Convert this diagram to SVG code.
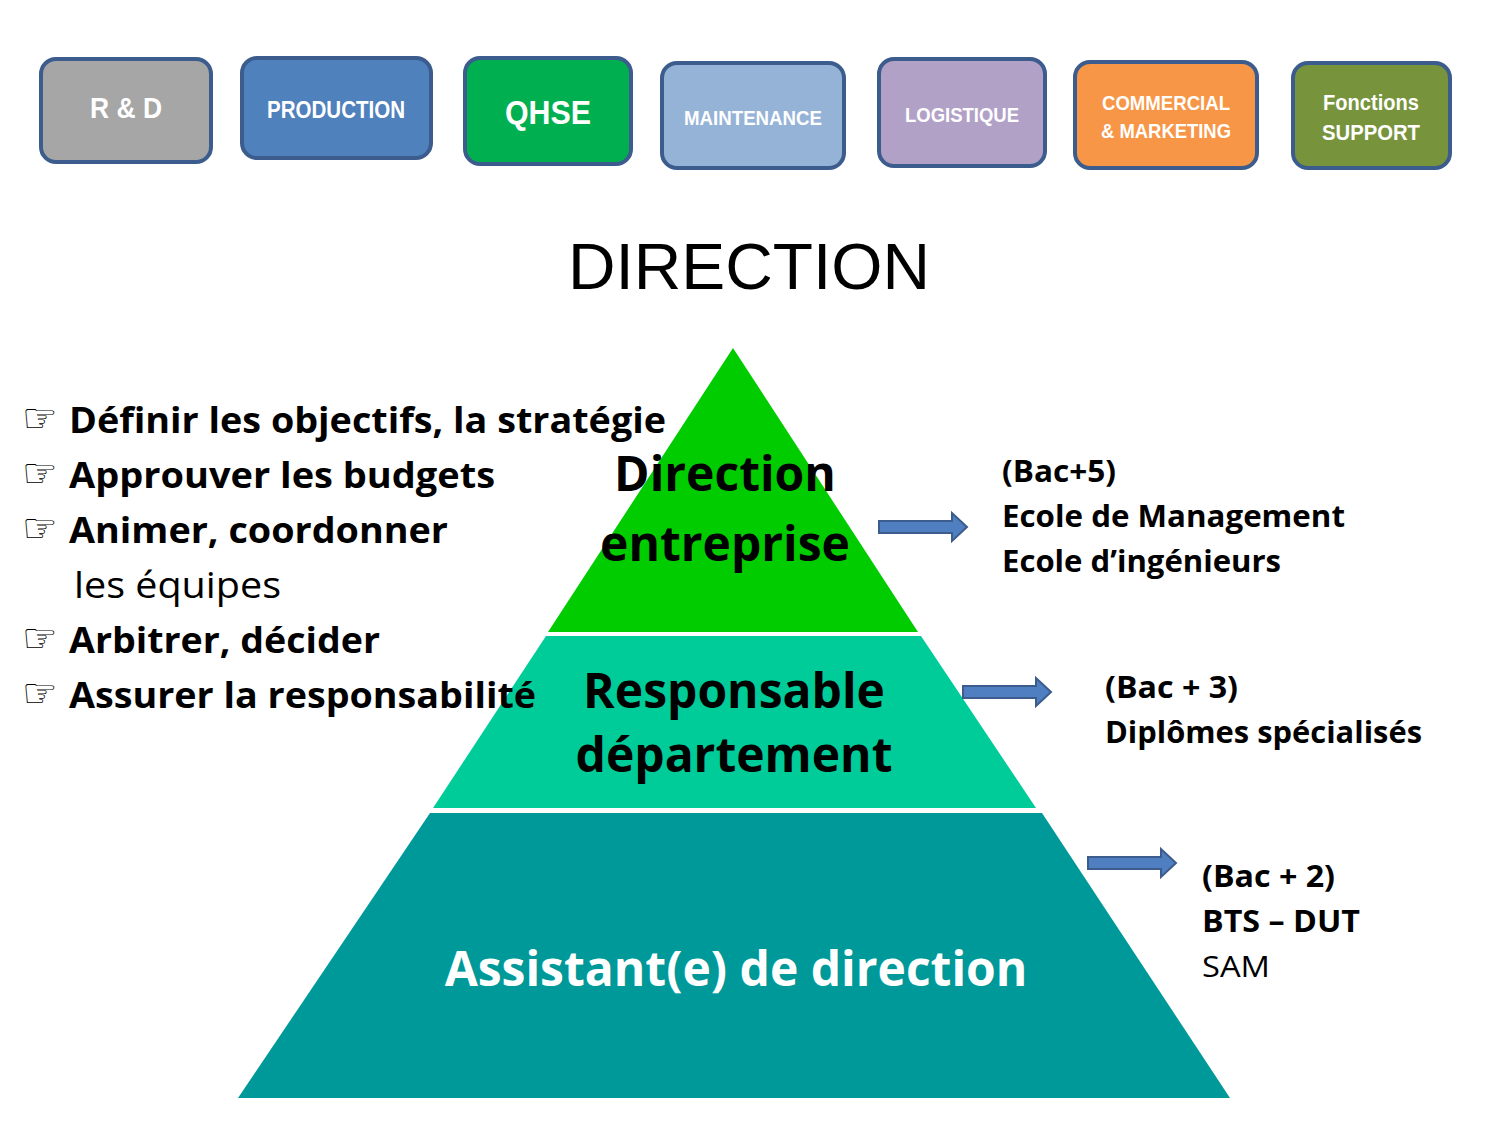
<svg xmlns="http://www.w3.org/2000/svg" width="1500" height="1125" viewBox="0 0 1500 1125">
<style>
.box{stroke:#3b5c8c;stroke-width:4}
.bt{font-family:"Liberation Sans",Arial,sans-serif;font-weight:bold;fill:#fff;text-anchor:middle}
.tx{font-family:"Open Sans","Liberation Sans",sans-serif;font-weight:bold;fill:#000}
.bl{font-family:"DejaVu Sans",sans-serif;font-size:40px;fill:#000}
.arr{fill:#4f7fc0;stroke:#3b5c8c;stroke-width:2}
</style>
<rect width="1500" height="1125" fill="#fff"/>
<g id="rd"><rect class="box" x="41" y="59" width="170" height="103" rx="15" fill="#a6a6a6"/><text class="bt" x="126" y="118" font-size="30" textLength="72" lengthAdjust="spacingAndGlyphs">R &amp; D</text></g>
<g id="production"><rect class="box" x="242" y="58" width="189" height="100" rx="15" fill="#4f81bd"/><text class="bt" x="336" y="118" font-size="24" textLength="138" lengthAdjust="spacingAndGlyphs">PRODUCTION</text></g>
<g id="qhse"><rect class="box" x="465" y="58" width="166" height="106" rx="15" fill="#00b050"/><text class="bt" x="548" y="124" font-size="34" textLength="86" lengthAdjust="spacingAndGlyphs">QHSE</text></g>
<g id="maintenance"><rect class="box" x="662" y="63" width="182" height="105" rx="15" fill="#95b3d7"/><text class="bt" x="753" y="125" font-size="21" textLength="138" lengthAdjust="spacingAndGlyphs">MAINTENANCE</text></g>
<g id="logistique"><rect class="box" x="879" y="59" width="166" height="107" rx="15" fill="#b2a1c7"/><text class="bt" x="962" y="122" font-size="21" textLength="114" lengthAdjust="spacingAndGlyphs">LOGISTIQUE</text></g>
<g id="commercial"><rect class="box" x="1075" y="62" width="182" height="106" rx="15" fill="#f79646"/><text class="bt" x="1166" y="110" font-size="21" textLength="128" lengthAdjust="spacingAndGlyphs">COMMERCIAL</text><text class="bt" x="1166" y="138" font-size="21" textLength="130" lengthAdjust="spacingAndGlyphs">&amp; MARKETING</text></g>
<g id="support"><rect class="box" x="1293" y="63" width="157" height="105" rx="15" fill="#77933c"/><text class="bt" x="1371" y="110" font-size="22" textLength="96" lengthAdjust="spacingAndGlyphs">Fonctions</text><text class="bt" x="1371" y="140" font-size="22" textLength="98" lengthAdjust="spacingAndGlyphs">SUPPORT</text></g>
<text x="749" y="289" font-family="Liberation Sans,Arial,sans-serif" font-size="64" text-anchor="middle" textLength="362" lengthAdjust="spacingAndGlyphs">DIRECTION</text>
<g id="tier1"><polygon points="733,348 918,632 548,632" fill="#00cc00"/><text class="tx" x="725" y="491" font-size="48" text-anchor="middle">Direction</text><text class="tx" x="725" y="561" font-size="48" text-anchor="middle">entreprise</text></g>
<g id="tier2"><polygon points="546,636 921,636 1036,808 433,808" fill="#00cc99"/><text class="tx" x="734" y="708" font-size="48" text-anchor="middle">Responsable</text><text class="tx" x="734" y="772" font-size="48" text-anchor="middle">département</text></g>
<g id="tier3"><polygon points="430,813 1042,813 1230,1098 238,1098" fill="#009999"/><text class="tx" x="736" y="986" font-size="48" text-anchor="middle" style="fill:#fff">Assistant(e) de direction</text></g>
<g id="connectors">
<polygon class="arr" points="879,521 952,521 952,513 967,527 952,541 952,533 879,533"/>
<polygon class="arr" points="963,686 1036,686 1036,678 1051,692 1036,706 1036,698 963,698"/>
<polygon class="arr" points="1088,857 1161,857 1161,849 1176,863 1161,877 1161,869 1088,869"/>
</g>
<g id="bullets">
<text class="bl" x="22" y="432">☞</text><text class="tx" x="69" y="433" font-size="36" textLength="597" lengthAdjust="spacingAndGlyphs">Définir les objectifs, la stratégie</text>
<text class="bl" x="22" y="487">☞</text><text class="tx" x="69" y="488" font-size="36" textLength="426" lengthAdjust="spacingAndGlyphs">Approuver les budgets</text>
<text class="bl" x="22" y="542">☞</text><text class="tx" x="69" y="543" font-size="36" textLength="379" lengthAdjust="spacingAndGlyphs">Animer, coordonner</text>
<text x="74" y="598" font-family="Open Sans,Liberation Sans,sans-serif" font-size="36" textLength="207" lengthAdjust="spacingAndGlyphs">les équipes</text>
<text class="bl" x="22" y="652">☞</text><text class="tx" x="69" y="653" font-size="36" textLength="311" lengthAdjust="spacingAndGlyphs">Arbitrer, décider</text>
<text class="bl" x="22" y="707">☞</text><text class="tx" x="69" y="708" font-size="36" textLength="467" lengthAdjust="spacingAndGlyphs">Assurer la responsabilité</text>
</g>
<g id="edu">
<text class="tx" x="1002" y="482" font-size="30" textLength="114" lengthAdjust="spacingAndGlyphs">(Bac+5)</text>
<text class="tx" x="1002" y="527" font-size="30" textLength="343" lengthAdjust="spacingAndGlyphs">Ecole de Management</text>
<text class="tx" x="1002" y="572" font-size="30" textLength="279" lengthAdjust="spacingAndGlyphs">Ecole d’ingénieurs</text>
<text class="tx" x="1105" y="698" font-size="30" textLength="133" lengthAdjust="spacingAndGlyphs">(Bac + 3)</text>
<text class="tx" x="1105" y="743" font-size="30" textLength="317" lengthAdjust="spacingAndGlyphs">Diplômes spécialisés</text>
<text class="tx" x="1202" y="887" font-size="30" textLength="133" lengthAdjust="spacingAndGlyphs">(Bac + 2)</text>
<text class="tx" x="1202" y="932" font-size="30" textLength="158" lengthAdjust="spacingAndGlyphs">BTS – DUT</text>
<text x="1202" y="977" font-family="Open Sans,Liberation Sans,sans-serif" font-size="30" textLength="68" lengthAdjust="spacingAndGlyphs">SAM</text>
</g>
</svg>
